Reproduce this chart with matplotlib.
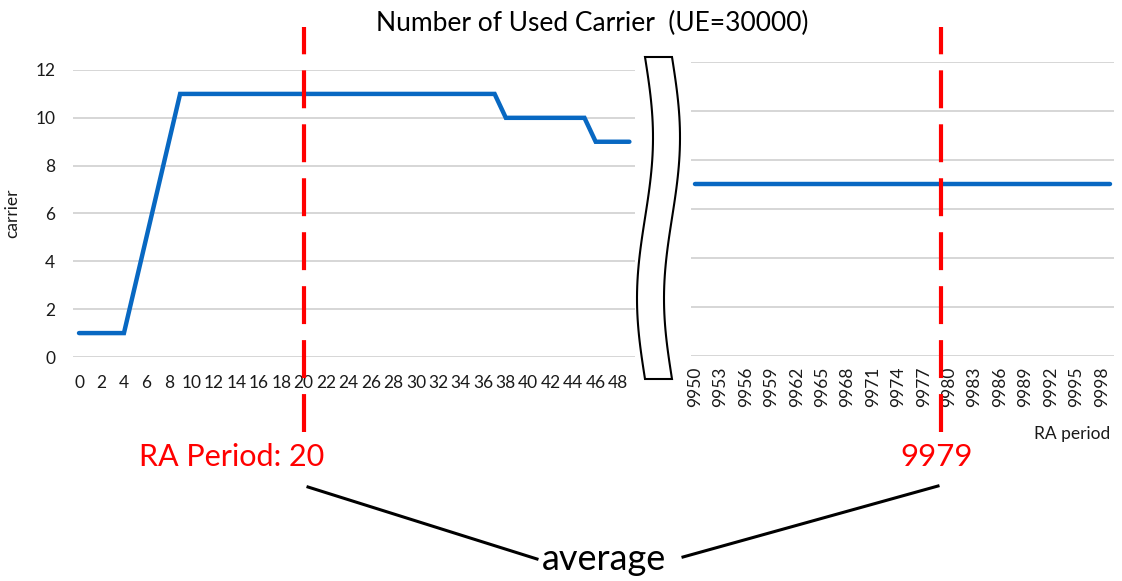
import numpy as np
import matplotlib
matplotlib.use("Agg")
import matplotlib.pyplot as plt
import matplotlib.transforms as mtransforms
from matplotlib.lines import Line2D
from matplotlib.patches import Polygon

plt.rcParams['font.family'] = ['Lato', 'DejaVu Sans']

# === Data ===
left_periods = list(range(0, 50))
left_carrier = [1, 1, 1, 1, 1, 3, 5, 7, 9, 11,
                11, 11, 11, 11, 11, 11, 11, 11, 11, 11,
                11, 11, 11, 11, 11, 11, 11, 11, 11, 11,
                11, 11, 11, 11, 11, 11, 11, 11, 10, 10,
                10, 10, 10, 10, 10, 10, 9, 9, 9, 9]

right_periods = list(range(9950, 10000))
right_carrier = [7, 7, 7, 7, 7, 7, 7, 7, 7, 7,
                 7, 7, 7, 7, 7, 7, 7, 7, 7, 7,
                 7, 7, 7, 7, 7, 7, 7, 7, 7, 7,
                 7, 7, 7, 7, 7, 7, 7, 7, 7, 7,
                 7, 7, 7, 7, 7, 7, 7, 7, 7, 7]

y_ticks = [0, 2, 4, 6, 8, 10, 12]
left_mark = 20
right_mark = 9979

title = "Number of Used Carrier  (UE=30000)"

# === Figure ===
W, H = 1122, 581
fig = plt.figure(figsize=(W / 100, H / 100), dpi=100)


def rect(x0, y0, x1, y1):
    # pixel box (left, top, right, bottom) -> figure fraction
    return [x0 / W, 1 - y1 / H, (x1 - x0) / W, (y1 - y0) / H]


ax1 = fig.add_axes(rect(73.4, 70, 635, 357))
ax2 = fig.add_axes(rect(690.8, 61.7, 1114.4, 355.7))

blue = '#0868c2'
grid_c = '#d0d0d0'
text_c = '#1a1a1a'
small = 12.5

ax1.plot(range(len(left_periods)), left_carrier, color=blue, lw=3.2,
         solid_capstyle='round', solid_joinstyle='miter', zorder=3)
ax2.plot(range(len(right_periods)), right_carrier, color=blue, lw=3.2,
         solid_capstyle='round', zorder=3)

for ax in (ax1, ax2):
    ax.set_xlim(-0.5, 49.5)
    ax.set_ylim(0, 12)
    ax.set_yticks(y_ticks)
    ax.grid(axis='y', color=grid_c, lw=1.2)
    ax.set_axisbelow(True)
    for s in ax.spines.values():
        s.set_visible(False)
    ax.tick_params(length=0, labelsize=small, labelcolor=text_c)

ax1.set_xticks(range(0, 50, 2))
ax1.set_xticklabels([str(p) for p in left_periods[::2]])
ax1.tick_params(axis='x', pad=13)
ax1.tick_params(axis='y', pad=13)
ax1.set_ylabel("carrier", fontsize=small, color=text_c)
ax1.yaxis.set_label_coords(-0.095, 0.5)

ax2.set_xticks(range(0, 50, 3))
ax2.set_xticklabels([str(p) for p in right_periods[::3]], rotation=90)
ax2.tick_params(axis='x', pad=8)
ax2.set_yticklabels([])
ax2.set_xlabel("RA period", fontsize=small, color=text_c, loc='right')
ax2.xaxis.set_label_coords(0.99, -0.24)

# === Red dashed markers ===
y_top, y_bot = 1 - 27 / H, 1 - 432 / H
for ax, xm in ((ax1, left_periods.index(left_mark)),
               (ax2, right_periods.index(right_mark))):
    tr = mtransforms.blended_transform_factory(ax.transData, fig.transFigure)
    fig.add_artist(Line2D([xm, xm], [y_bot, y_top], transform=tr,
                          color='#ff0000', lw=3, dashes=(9.1, 3.85)))

# === Axis break symbol ===
yy = np.linspace(57, 379, 60)
xl = 645 + 8 * np.sin(2 * np.pi * (yy - 57) / 322)
xr = xl + 27
pts = np.vstack([np.column_stack([xl, yy]),
                 np.column_stack([xr[::-1], yy[::-1]])])
pts_fig = np.column_stack([pts[:, 0] / W, 1 - pts[:, 1] / H])
fig.add_artist(Polygon(pts_fig, closed=True, facecolor='white',
                       edgecolor='black', lw=1.5, transform=fig.transFigure))

# === Texts and annotation lines ===
fig.text(592 / W, 1 - 23 / H, title, fontsize=19, ha='center', va='center',
         color='black')
fig.text(232 / W, 1 - 457 / H, f"RA Period: {left_mark}", fontsize=22,
         color='#ff0000', ha='center', va='center')
fig.text(937 / W, 1 - 457 / H, f"{right_mark}", fontsize=22.5,
         color='#ff0000', ha='center', va='center')
fig.text(604 / W, 1 - 560 / H, "average", fontsize=26, ha='center',
         va='center', color='black')

fig.add_artist(Line2D([308 / W, 537 / W], [1 - 487 / H, 1 - 559 / H],
                      transform=fig.transFigure, color='black', lw=2.2))
fig.add_artist(Line2D([938 / W, 683 / W], [1 - 486 / H, 1 - 557 / H],
                      transform=fig.transFigure, color='black', lw=2.2))

fig.savefig("out.png", dpi=100)
